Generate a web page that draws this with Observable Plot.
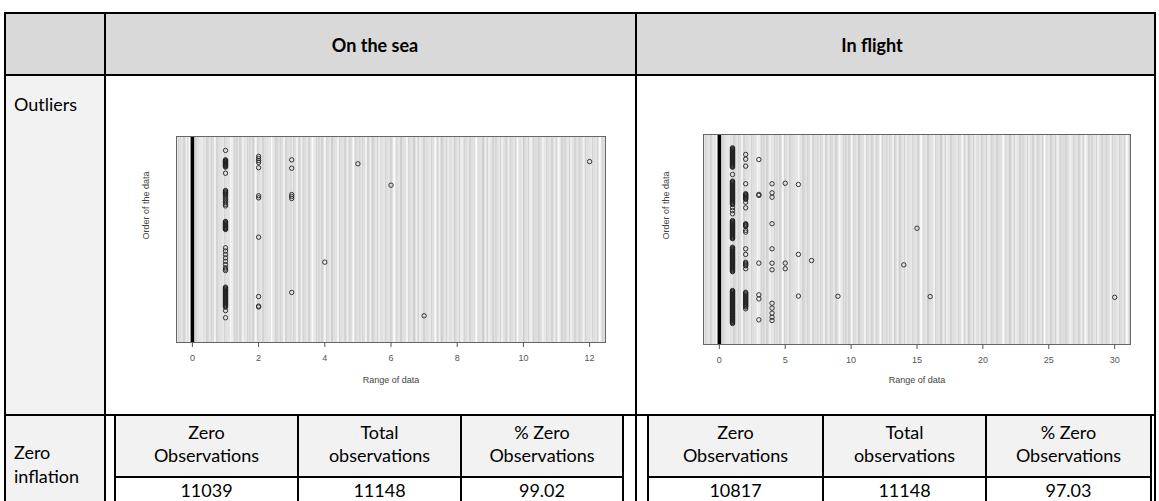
<!DOCTYPE html>
<html>
<head>
<meta charset="utf-8">
<script src="https://cdn.jsdelivr.net/npm/d3@7"></script>
<script src="https://cdn.jsdelivr.net/npm/@observablehq/plot@0.6"></script>
<style>
  html, body { margin: 0; padding: 0; background: #fff; }
  body { width: 1159px; height: 501px; overflow: hidden; position: relative; font-family: Lato, "Open Sans", sans-serif; }
  .bg { position: absolute; }
  .hl { position: absolute; height: 2px; background: #000; }
  .vl { position: absolute; width: 2px; background: #000; }
  .t { position: absolute; white-space: nowrap; font-size: 18px; line-height: 1; color: #000; }
  .c { transform: translate(-50%, -50%); }
  .l { transform: translate(0, -50%); }
  .panel { position: absolute; }
</style>
</head>
<body>
<svg width="0" height="0" style="position:absolute">
  <defs>
    <pattern id="stripesA" patternUnits="userSpaceOnUse" width="23" height="10">
      <rect x="0" width="1" height="10" fill="#fff" fill-opacity="0.9"/>
      <rect x="3" width="1" height="10" fill="#fff" fill-opacity="0.5"/>
      <rect x="5" width="1" height="10" fill="#fff" fill-opacity="0.7"/>
      <rect x="9" width="2" height="10" fill="#fff" fill-opacity="0.6"/>
      <rect x="13" width="1" height="10" fill="#fff" fill-opacity="0.4"/>
      <rect x="15" width="1" height="10" fill="#fff" fill-opacity="0.8"/>
      <rect x="19" width="1" height="10" fill="#fff" fill-opacity="0.5"/>
      <rect x="21" width="1" height="10" fill="#fff" fill-opacity="0.6"/>
    </pattern>
    <pattern id="stripesB" patternUnits="userSpaceOnUse" width="41" height="10">
      <rect x="2" width="1" height="10" fill="#fff" fill-opacity="0.9"/>
      <rect x="17" width="2" height="10" fill="#fff" fill-opacity="0.8"/>
      <rect x="24" width="1" height="10" fill="#bbb" fill-opacity="0.5"/>
      <rect x="30" width="1" height="10" fill="#fff" fill-opacity="0.9"/>
      <rect x="37" width="1" height="10" fill="#bbb" fill-opacity="0.4"/>
    </pattern>
  </defs>
</svg>
<div id="root"></div>
<script>
// ---------- data ----------
const panelTitles = ["On the sea", "In flight"];
const rowLabels = ["Outliers", ["Zero", "inflation"]];
const statHeaders = [["Zero", "Observations"], ["Total", "observations"], ["% Zero", "Observations"]];
const seaStats = ["11039", "11148", "99.02"];
const flightStats = ["10817", "11148", "97.03"];
const totalRows = 11148;
const xLabel = "Range of data";
const yLabel = "Order of the data";
const seaTicks = [0, 2, 4, 6, 8, 10, 12];
const flightTicks = [0, 5, 10, 15, 20, 25, 30];
const zeroValue = [0];

// non-zero observations: [value, order of the data]
const seaPoints = [
  [1,10780],
  [1,10230],[1,10200],[1,10170],[1,10140],[1,10110],[1,10080],[1,10050],[1,10020],[1,9990],[1,9960],[1,9930],[1,9900],[1,9870],[1,9840],[1,9810],
  [1,9450],
  [1,8440],[1,8400],[1,8350],[1,8310],[1,8260],[1,8220],[1,8170],[1,8080],[1,7990],[1,7900],[1,7810],[1,7720],[1,7630],[1,7540],
  [1,6630],[1,6600],[1,6560],[1,6530],[1,6490],[1,6460],[1,6420],[1,6390],[1,6350],[1,6320],[1,6280],[1,6250],[1,6210],[1,6190],[1,6160],
  [1,5090],[1,4900],[1,4700],[1,4500],[1,4300],[1,4110],[1,3920],[1,3840],[1,3760],
  [1,2790],[1,2750],[1,2710],[1,2670],[1,2630],[1,2590],[1,2550],[1,2510],[1,2470],[1,2430],[1,2390],[1,2350],[1,2310],[1,2270],[1,2230],[1,2190],[1,2150],[1,2110],[1,2070],[1,2030],[1,1990],[1,1950],[1,1910],[1,1870],[1,1830],[1,1790],[1,1750],[1,1710],[1,1670],[1,1620],
  [1,1420],[1,1000],
  [2,10430],[2,10310],[2,10190],[2,10080],[2,9770],[2,8130],[2,8010],[2,5710],[2,2240],[2,1680],[2,1630],
  [3,10230],[3,9740],[3,8200],[3,8090],[3,7970],[3,2480],
  [4,4250],[5,10000],[6,8750],[7,1115],[12,10130]
];
const flightPoints = [
  [1,10830],[1,10795],[1,10760],[1,10725],[1,10690],[1,10655],[1,10620],[1,10585],[1,10550],[1,10515],[1,10480],[1,10445],[1,10410],[1,10375],[1,10340],[1,10305],[1,10270],[1,10235],[1,10200],[1,10165],[1,10130],[1,10095],[1,10060],[1,10025],[1,9990],[1,9955],[1,9920],[1,9885],[1,9850],[1,9815],[1,9780],[1,9750],[1,9720],
  [1,9302],
  [1,8920],[1,8885],[1,8850],[1,8815],[1,8780],[1,8740],[1,8700],[1,8660],[1,8620],[1,8580],[1,8540],[1,8500],[1,8460],[1,8420],[1,8380],[1,8340],[1,8300],[1,8260],[1,8220],[1,8180],[1,8140],[1,8100],[1,8060],[1,8020],[1,7980],[1,7940],[1,7900],[1,7860],[1,7820],[1,7780],[1,7740],[1,7700],[1,7660],[1,7620],[1,7580],[1,7400],[1,7230],[1,7050],
  [1,6660],[1,6625],[1,6590],[1,6555],[1,6520],[1,6485],[1,6450],[1,6415],[1,6380],[1,6345],[1,6310],[1,6275],[1,6240],[1,6205],[1,6170],[1,6135],[1,6100],[1,6065],[1,6030],[1,5995],[1,5960],[1,5925],[1,5890],[1,5855],[1,5820],[1,5785],[1,5750],[1,5715],[1,5680],[1,5650],[1,5620],
  [1,5130],[1,5095],[1,5060],[1,5025],[1,4990],[1,4955],[1,4920],[1,4885],[1,4850],[1,4815],[1,4780],[1,4745],[1,4710],[1,4675],[1,4640],[1,4605],[1,4570],[1,4535],[1,4500],[1,4465],[1,4430],[1,4395],[1,4360],[1,4325],[1,4290],[1,4255],[1,4220],[1,4185],[1,4150],[1,4115],[1,4080],[1,4045],[1,4010],[1,3975],[1,3940],[1,3905],[1,3870],[1,3835],[1,3800],[1,3765],[1,3730],
  [1,2650],[1,2615],[1,2580],[1,2545],[1,2510],[1,2475],[1,2440],[1,2405],[1,2370],[1,2335],[1,2300],[1,2265],[1,2230],[1,2195],[1,2160],[1,2125],[1,2090],[1,2055],[1,2020],[1,1985],[1,1950],[1,1915],[1,1880],[1,1845],[1,1810],[1,1775],[1,1740],[1,1705],[1,1670],[1,1635],[1,1600],[1,1565],[1,1530],[1,1495],[1,1460],[1,1425],[1,1390],[1,1355],[1,1320],[1,1285],[1,1250],[1,1215],[1,1180],[1,1145],[1,1110],[1,1075],[1,1040],[1,1005],[1,970],[1,935],[1,900],[1,865],[1,830],[1,795],[1,760],
  [2,10450],[2,10180],[2,9780],[2,8770],[2,8200],[2,8160],[2,8120],[2,8080],[2,8040],[2,8000],[2,7960],[2,7920],[2,7880],[2,7710],[2,7390],
  [2,6480],[2,6440],[2,6400],[2,6360],[2,6320],[2,6100],[2,6000],[2,5040],[2,4720],[2,4270],[2,4220],[2,4170],[2,4120],[2,4070],[2,3900],
  [2,2550],[2,2500],[2,2450],[2,2400],[2,2350],[2,2300],[2,2250],[2,2200],[2,2150],[2,2100],[2,2050],[2,2000],[2,1950],[2,1900],[2,1850],[2,1800],[2,1750],[2,1700],[2,1600],
  [3,10160],[3,8160],[3,8100],[3,4220],[3,2400],[3,2170],[3,970],
  [4,8770],[4,8250],[4,8000],[4,6480],[4,5040],[4,4220],[4,3840],[4,1920],[4,1640],[4,1350],[4,1120],[4,930],
  [5,8800],[5,4220],[5,3900],
  [6,8730],[6,4720],[6,2330],
  [7,4370],[9,2320],[14,4120],[15,6220],[16,2300],[30,2260]
];

// ---------- table layout ----------
const root = document.getElementById("root");
function el(cls, style, html) {
  const d = document.createElement("div");
  d.className = cls;
  Object.assign(d.style, style);
  if (html != null) d.innerHTML = html;
  root.appendChild(d);
  return d;
}
const px = v => v + "px";
function bg(x1, y1, x2, y2, color) { el("bg", {left: px(x1), top: px(y1), width: px(x2 - x1), height: px(y2 - y1), background: color}); }
function hl(x1, x2, y) { el("hl", {left: px(x1 - 1), top: px(y - 1), width: px(x2 - x1 + 2)}); }
function vl(x, y1, y2) { el("vl", {left: px(x - 1), top: px(y1 - 1), height: px(y2 - y1 + 2)}); }
function txt(x, y, s, cls, extra) { el("t " + cls, Object.assign({left: px(x), top: px(y)}, extra || {}), s); }

// backgrounds
bg(5, 13, 1155, 75, "#d9d9d9");
bg(5, 75, 105, 415, "#f2f2f2");
bg(5, 415, 105, 501, "#f2f2f2");
bg(115, 415, 623, 477, "#f2f2f2");
bg(648, 415, 1151, 477, "#f2f2f2");

// header texts
txt(375, 45, panelTitles[0], "c", {fontWeight: "bold"});
txt(872, 45, panelTitles[1], "c", {fontWeight: "bold"});
txt(14, 104, rowLabels[0], "l");
txt(14, 452, rowLabels[1][0], "l");
txt(14, 476, rowLabels[1][1], "l");

// inner stat tables
const seaCols = [115, 298, 461, 623];
const flightCols = [648, 823, 986, 1151];
function statTable(cols, stats) {
  for (let i = 0; i < 3; i++) {
    const cx = (cols[i] + cols[i + 1]) / 2;
    txt(cx, 432, statHeaders[i][0], "c");
    txt(cx, 455, statHeaders[i][1], "c");
    txt(cx, 490, stats[i], "c");
  }
  cols.forEach(x => vl(x, 415, 501));
  hl(cols[0], cols[3], 477);
}
statTable(seaCols, seaStats);
statTable(flightCols, flightStats);

// outer grid lines
hl(5, 1155, 13);
hl(5, 1155, 75);
hl(5, 1155, 415);
[5, 105, 636, 1155].forEach(x => vl(x, 13, 501));

// ---------- dot charts ----------
const yDomain = [-446, totalRows + 447];
function dotPanel(points, ticks, xDomain, o) {
  const chart = Plot.plot({
    width: o.w, height: o.h,
    marginLeft: o.ml, marginRight: o.mr, marginTop: o.mt, marginBottom: o.mb,
    style: {fontFamily: "'Liberation Sans', Arial, sans-serif", background: "transparent", overflow: "visible"},
    x: {domain: xDomain},
    y: {domain: yDomain, axis: null},
    marks: [
      Plot.frame({fill: "#d4d4d4"}),
      Plot.frame({fill: "url(#stripesA)"}),
      Plot.frame({fill: "url(#stripesB)"}),
      Plot.ruleX(zeroValue, {stroke: "#000", strokeWidth: 3.5}),
      Plot.dot(points, {x: d => d[0], y: d => d[1], r: 2.2, stroke: "#222", strokeWidth: 0.9, fill: "none"}),
      Plot.frame({stroke: "#666", strokeWidth: 1}),
      Plot.axisX(ticks, {tickSize: 5, tickPadding: 7, fontSize: 9, color: "#555", label: null}),
      Plot.text([xLabel], {frameAnchor: "bottom", dy: o.labelDy, fontSize: 9, fill: "#444"}),
      Plot.text([yLabel], {frameAnchor: "left", rotate: -90, dx: o.ylabDx, fontSize: 9, fill: "#444"})
    ]
  });
  const wrap = el("panel", {left: px(o.left), top: px(o.top)});
  wrap.appendChild(chart);
}
dotPanel(seaPoints, seaTicks, [-0.48, 12.48], {left: 130, top: 120, w: 490, h: 280, ml: 46, mr: 15, mt: 16, mb: 58, labelDy: 40, ylabDx: -30});
dotPanel(flightPoints, flightTicks, [-1.2, 31.2], {left: 657, top: 118, w: 488, h: 282, ml: 46, mr: 15, mt: 16, mb: 56, labelDy: 38, ylabDx: -37});
</script>
</body>
</html>
